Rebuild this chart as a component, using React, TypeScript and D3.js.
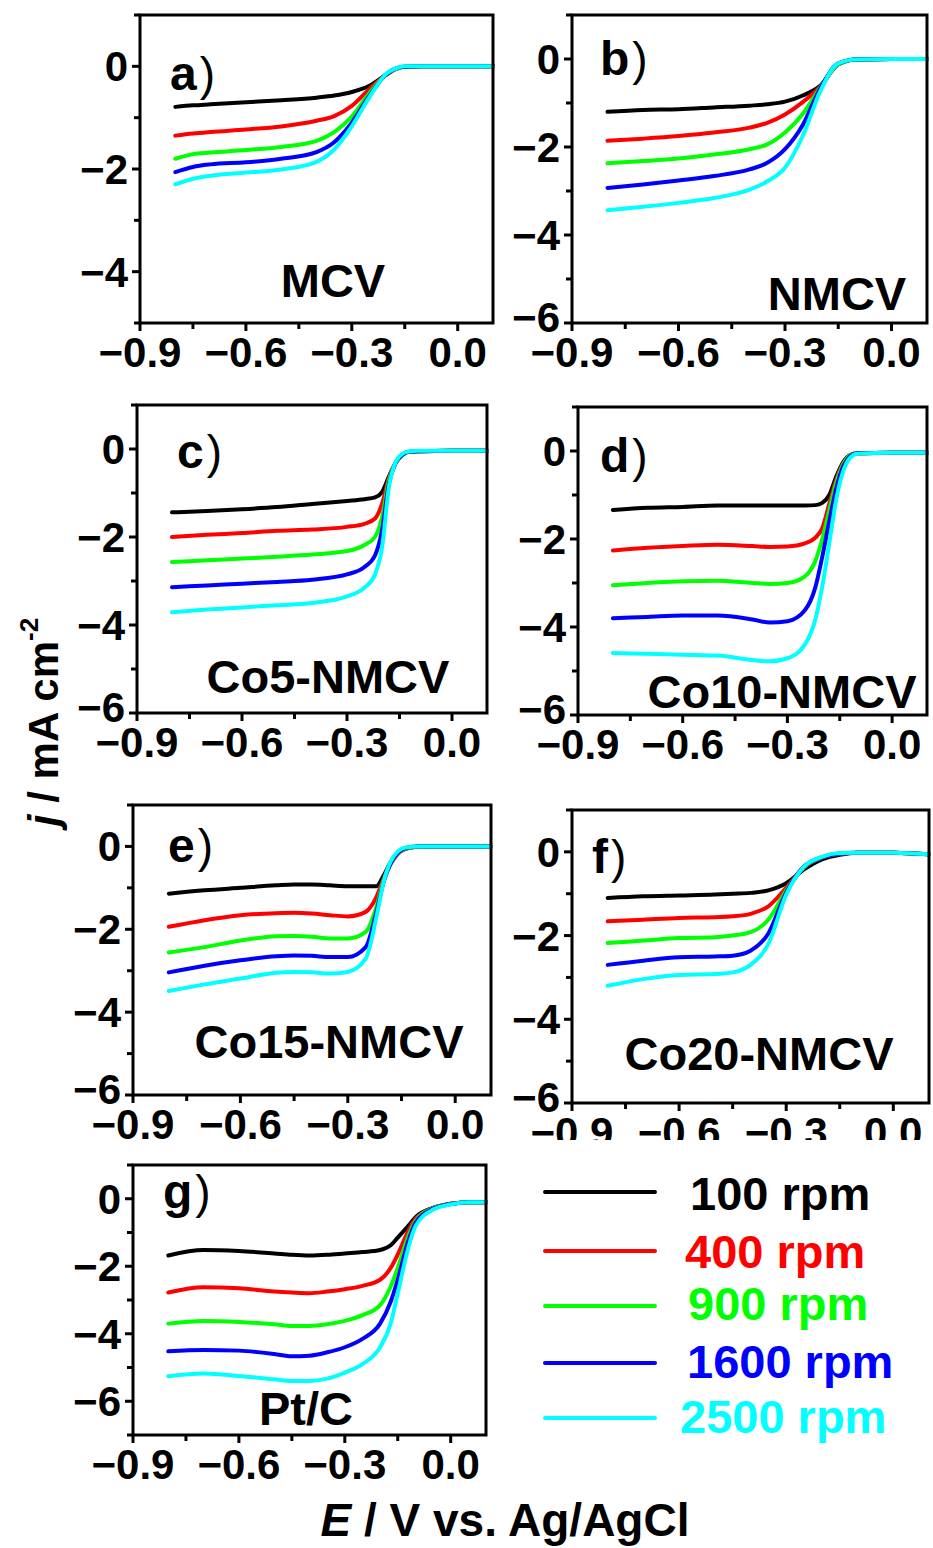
import React from 'react';
import * as d3 from 'd3';

// series order: 100, 400, 900, 1600, 2500 rpm
const rpmLabels = ['100 rpm', '400 rpm', '900 rpm', '1600 rpm', '2500 rpm'];
const rpmColors = ['#000000', '#ff0000', '#00ff00', '#0000ff', '#00ffff'];
const panelTags = ['a', 'b', 'c', 'd', 'e', 'f', 'g'];
const sampleNames = ['MCV', 'NMCV', 'Co5-NMCV', 'Co10-NMCV', 'Co15-NMCV', 'Co20-NMCV', 'Pt/C'];
const xTicks = [-0.9, -0.6, -0.3, 0.0];
const yMins = [-5, -6, -6, -6, -6, -6, -7];

// a) MCV
const potA = [-0.8, -0.75, -0.7, -0.6, -0.5, -0.4, -0.35, -0.3, -0.25, -0.2, -0.175, -0.15, -0.1, 0, 0.1];
const curA = [
  [-0.79, -0.76, -0.74, -0.70, -0.66, -0.61, -0.57, -0.50, -0.38, -0.15, -0.05, -0.01, 0, 0, 0],
  [-1.35, -1.31, -1.28, -1.23, -1.17, -1.06, -0.97, -0.77, -0.44, -0.15, -0.05, -0.01, 0, 0, 0],
  [-1.80, -1.71, -1.68, -1.63, -1.57, -1.45, -1.28, -0.98, -0.52, -0.14, -0.05, -0.01, 0, 0, 0],
  [-2.06, -1.96, -1.91, -1.87, -1.80, -1.67, -1.48, -1.10, -0.57, -0.14, -0.04, -0.01, 0, 0, 0],
  [-2.30, -2.19, -2.13, -2.07, -2.01, -1.86, -1.62, -1.17, -0.60, -0.13, -0.04, 0, 0, 0, 0],
];

// b) NMCV
const potB = [-0.8, -0.7, -0.6, -0.5, -0.4, -0.35, -0.3, -0.25, -0.2, -0.15, -0.1, 0, 0.1];
const curB = [
  [-1.20, -1.16, -1.14, -1.10, -1.06, -1.03, -0.97, -0.83, -0.60, -0.12, -0.01, 0, 0],
  [-1.86, -1.81, -1.75, -1.67, -1.56, -1.45, -1.26, -0.98, -0.62, -0.12, -0.01, 0, 0],
  [-2.37, -2.32, -2.26, -2.17, -2.05, -1.94, -1.67, -1.25, -0.64, -0.12, -0.01, 0, 0],
  [-2.93, -2.85, -2.76, -2.66, -2.51, -2.36, -2.05, -1.50, -0.66, -0.10, -0.01, 0, 0],
  [-3.44, -3.36, -3.27, -3.16, -2.97, -2.78, -2.47, -1.75, -0.72, -0.10, -0.01, 0, 0],
];

// c) Co5-NMCV
const potC = [-0.8, -0.7, -0.6, -0.5, -0.4, -0.3, -0.25, -0.22, -0.2, -0.18, -0.16, -0.14, -0.12, -0.1, 0, 0.1];
const curC = [
  [-1.44, -1.41, -1.37, -1.32, -1.25, -1.18, -1.14, -1.10, -0.98, -0.62, -0.30, -0.12, -0.06, -0.05, -0.04, -0.04],
  [-2.00, -1.95, -1.91, -1.86, -1.83, -1.77, -1.70, -1.58, -1.25, -0.65, -0.30, -0.12, -0.06, -0.05, -0.04, -0.04],
  [-2.57, -2.53, -2.49, -2.45, -2.40, -2.32, -2.18, -2.00, -1.55, -0.70, -0.30, -0.12, -0.06, -0.05, -0.04, -0.04],
  [-3.14, -3.10, -3.06, -3.02, -2.97, -2.85, -2.68, -2.42, -1.85, -0.78, -0.30, -0.12, -0.06, -0.05, -0.04, -0.04],
  [-3.71, -3.65, -3.60, -3.55, -3.50, -3.35, -3.15, -2.85, -2.25, -0.85, -0.28, -0.10, -0.05, -0.04, -0.04, -0.04],
];

// d) Co10-NMCV
const potD = [-0.8, -0.7, -0.6, -0.5, -0.4, -0.35, -0.3, -0.25, -0.22, -0.2, -0.18, -0.16, -0.14, -0.12, -0.1, 0, 0.1];
const curD = [
  [-1.34, -1.29, -1.27, -1.24, -1.24, -1.24, -1.24, -1.24, -1.23, -1.18, -1.00, -0.58, -0.25, -0.09, -0.05, -0.04, -0.04],
  [-2.26, -2.20, -2.16, -2.13, -2.16, -2.18, -2.17, -2.10, -1.97, -1.75, -1.20, -0.65, -0.28, -0.10, -0.05, -0.04, -0.04],
  [-3.05, -3.00, -2.96, -2.95, -3.00, -3.02, -3.00, -2.85, -2.50, -2.00, -1.35, -0.72, -0.30, -0.10, -0.05, -0.04, -0.04],
  [-3.80, -3.77, -3.74, -3.74, -3.83, -3.90, -3.87, -3.62, -3.10, -2.40, -1.60, -0.85, -0.35, -0.12, -0.05, -0.04, -0.04],
  [-4.59, -4.61, -4.63, -4.65, -4.75, -4.78, -4.71, -4.40, -3.83, -3.07, -2.10, -1.10, -0.46, -0.15, -0.06, -0.04, -0.04],
];

// e) Co15-NMCV
const potE = [-0.8, -0.7, -0.6, -0.5, -0.45, -0.4, -0.35, -0.3, -0.25, -0.22, -0.2, -0.18, -0.16, -0.14, -0.12, -0.1, 0, 0.1];
const curE = [
  [-1.14, -1.06, -1.00, -0.94, -0.92, -0.92, -0.94, -0.96, -0.96, -0.96, -0.70, -0.38, -0.16, -0.06, -0.02, 0, 0, 0],
  [-1.94, -1.78, -1.66, -1.61, -1.60, -1.62, -1.66, -1.69, -1.58, -1.22, -0.78, -0.42, -0.18, -0.06, -0.02, 0, 0, 0],
  [-2.56, -2.43, -2.27, -2.17, -2.16, -2.18, -2.22, -2.22, -2.06, -1.46, -0.82, -0.40, -0.16, -0.05, -0.02, 0, 0, 0],
  [-3.04, -2.88, -2.75, -2.65, -2.63, -2.64, -2.67, -2.67, -2.43, -1.58, -0.86, -0.40, -0.15, -0.04, -0.01, 0, 0, 0],
  [-3.49, -3.33, -3.19, -3.05, -3.03, -3.04, -3.07, -3.03, -2.71, -1.70, -0.86, -0.36, -0.12, -0.03, -0.01, 0, 0, 0],
];

// f) Co20-NMCV
const potF = [-0.8, -0.7, -0.6, -0.5, -0.45, -0.4, -0.35, -0.3, -0.25, -0.2, -0.15, -0.1, 0, 0.1];
const curF = [
  [-1.10, -1.06, -1.04, -1.02, -1.00, -0.98, -0.92, -0.75, -0.42, -0.18, -0.07, -0.02, -0.02, -0.06],
  [-1.66, -1.62, -1.58, -1.56, -1.54, -1.48, -1.30, -0.86, -0.36, -0.14, -0.05, -0.02, -0.02, -0.06],
  [-2.18, -2.12, -2.06, -2.04, -2.00, -1.92, -1.62, -0.92, -0.36, -0.13, -0.04, -0.02, -0.02, -0.06],
  [-2.70, -2.60, -2.52, -2.50, -2.48, -2.36, -1.95, -0.97, -0.35, -0.13, -0.04, -0.02, -0.02, -0.06],
  [-3.20, -3.04, -2.94, -2.92, -2.88, -2.70, -2.20, -1.02, -0.35, -0.12, -0.03, -0.02, -0.02, -0.06],
];

// g) Pt/C
const potG = [-0.8, -0.7, -0.6, -0.5, -0.45, -0.4, -0.35, -0.3, -0.25, -0.2, -0.17, -0.15, -0.12, -0.1, -0.05, 0, 0.05, 0.1];
const curG = [
  [-1.68, -1.52, -1.55, -1.62, -1.66, -1.68, -1.66, -1.62, -1.58, -1.52, -1.38, -1.15, -0.80, -0.55, -0.27, -0.15, -0.10, -0.10],
  [-2.78, -2.62, -2.65, -2.75, -2.78, -2.80, -2.75, -2.68, -2.58, -2.40, -2.05, -1.65, -0.95, -0.60, -0.28, -0.15, -0.10, -0.10],
  [-3.70, -3.62, -3.65, -3.72, -3.77, -3.77, -3.72, -3.62, -3.45, -3.15, -2.60, -2.05, -1.10, -0.66, -0.28, -0.16, -0.10, -0.10],
  [-4.52, -4.48, -4.50, -4.60, -4.67, -4.65, -4.55, -4.40, -4.15, -3.70, -3.05, -2.40, -1.25, -0.72, -0.30, -0.16, -0.10, -0.10],
  [-5.26, -5.18, -5.25, -5.35, -5.40, -5.40, -5.33, -5.15, -4.90, -4.40, -3.70, -2.80, -1.45, -0.82, -0.32, -0.17, -0.10, -0.10],
];

const potentials = [potA, potB, potC, potD, potE, potF, potG];
const currents = [curA, curB, curC, curD, curE, curF, curG];

// page layout of each panel frame and its labels
const frames = [
  { l: 140, t: 15, r: 493, b: 323, tag: [170, 90], name: [333, 297] },
  { l: 572, t: 15, r: 927, b: 323, tag: [600, 75], name: [837, 310] },
  { l: 137, t: 405, r: 487, b: 713, tag: [177, 468], name: [328, 693] },
  { l: 578, t: 407, r: 927, b: 715, tag: [600, 472], name: [782, 708] },
  { l: 133, t: 805, r: 491, b: 1095, tag: [168, 862], name: [329, 1058] },
  { l: 572, t: 810, r: 929, b: 1103, tag: [592, 873], name: [759, 1070] },
  { l: 133, t: 1165, r: 486, b: 1435, tag: [163, 1208], name: [306, 1425] },
];

const FONT = '"Liberation Sans", Arial, Helvetica, sans-serif';
const fmtX = d3.format('.1f');
const fmtY = d3.format('d');

function Panel({ i }: { i: number }) {
  const f = frames[i];
  const ymin = yMins[i];
  const x = d3.scaleLinear().domain([-0.9, 0.1]).range([f.l, f.r]);
  const y = d3.scaleLinear().domain([ymin, 1]).range([f.b, f.t]);
  const pot = potentials[i];
  const line = d3.line<number>()
    .x((_, k) => x(pot[k]))
    .y(d => y(d))
    .curve(d3.curveMonotoneX);

  const xMinor = d3.range(-0.75, 0.1, 0.3);
  const yMajor = d3.range(0, ymin - 0.5, -2);
  const yMinor = [1, ...d3.range(-1, ymin - 0.5, -2)];

  return (
    <g>
      {currents[i].map((s, k) => (
        <path key={k} d={line(s) || ''} fill="none" stroke={rpmColors[k]}
          strokeWidth={4} strokeLinecap="round" strokeLinejoin="round" />
      ))}
      <rect x={f.l} y={f.t} width={f.r - f.l} height={f.b - f.t}
        fill="none" stroke="#000" strokeWidth={3} />
      {xTicks.map(v => (
        <line key={'xt' + v} x1={x(v)} x2={x(v)} y1={f.b} y2={f.b + 8} stroke="#000" strokeWidth={3} />
      ))}
      {xMinor.map(v => (
        <line key={'xm' + v} x1={x(v)} x2={x(v)} y1={f.b} y2={f.b + 6} stroke="#000" strokeWidth={3} />
      ))}
      {yMajor.map(v => (
        <line key={'yt' + v} x1={f.l - 8} x2={f.l} y1={y(v)} y2={y(v)} stroke="#000" strokeWidth={3} />
      ))}
      {yMinor.map(v => (
        <line key={'ym' + v} x1={f.l - 6} x2={f.l} y1={y(v)} y2={y(v)} stroke="#000" strokeWidth={3} />
      ))}
      <g clipPath={i === 5 ? 'url(#clipF)' : undefined}>
        {xTicks.map(v => (
          <text key={'xl' + v} x={x(v)} y={f.b + 44} textAnchor="middle"
            fontSize={42} fontWeight="bold" fontFamily={FONT}>{fmtX(v)}</text>
        ))}
      </g>
      {yMajor.map(v => (
        <text key={'yl' + v} x={f.l - 12} y={y(v) + (v === ymin ? 9 : 15)} textAnchor="end"
          fontSize={42} fontWeight="bold" fontFamily={FONT}>{fmtY(v)}</text>
      ))}
      <text x={f.tag[0]} y={f.tag[1]} fontSize={48} fontFamily={FONT}>
        <tspan fontWeight="bold">{panelTags[i]}</tspan>
        <tspan fontWeight="normal" fontSize={46} dx={3}>)</tspan>
      </text>
      <text x={f.name[0]} y={f.name[1]} textAnchor="middle" fontSize={47}
        fontWeight="bold" fontFamily={FONT}>{sampleNames[i]}</text>
    </g>
  );
}

const legendLineY = [1192, 1251, 1306, 1363, 1418];
const legendTextX = [690, 685, 688, 687, 680];
const legendTextY = [1210, 1268, 1320, 1378, 1433];

export default function App() {
  return (
    <svg width={933} height={1548} viewBox="0 0 933 1548"
      style={{ position: 'absolute', left: 0, top: 0, background: '#fff' }}>
      <defs>
        <clipPath id="clipF">
          <rect x={0} y={0} width={933} height={1140} />
        </clipPath>
      </defs>
      <rect x={0} y={0} width={933} height={1548} fill="#fff" />
      {frames.map((_, i) => <Panel key={i} i={i} />)}

      {rpmLabels.map((lab, k) => (
        <g key={lab}>
          <line x1={545} x2={655} y1={legendLineY[k]} y2={legendLineY[k]}
            stroke={rpmColors[k]} strokeWidth={4} strokeLinecap="round" />
          <text x={legendTextX[k]} y={legendTextY[k]} fill={rpmColors[k]}
            fontSize={47} fontWeight="bold" fontFamily={FONT}>{lab}</text>
        </g>
      ))}

      <text transform="translate(58,722) rotate(-90)" textAnchor="middle"
        fontSize={42} fontWeight="bold" fontFamily={FONT}>
        <tspan fontStyle="italic">j</tspan>
        <tspan> / mA cm</tspan>
        <tspan fontSize={26} dy={-20}>-2</tspan>
      </text>

      <text x={505} y={1536} textAnchor="middle" fontSize={46} fontWeight="bold" fontFamily={FONT}>
        <tspan fontStyle="italic">E</tspan>
        <tspan> / V vs. Ag/AgCl</tspan>
      </text>
    </svg>
  );
}
